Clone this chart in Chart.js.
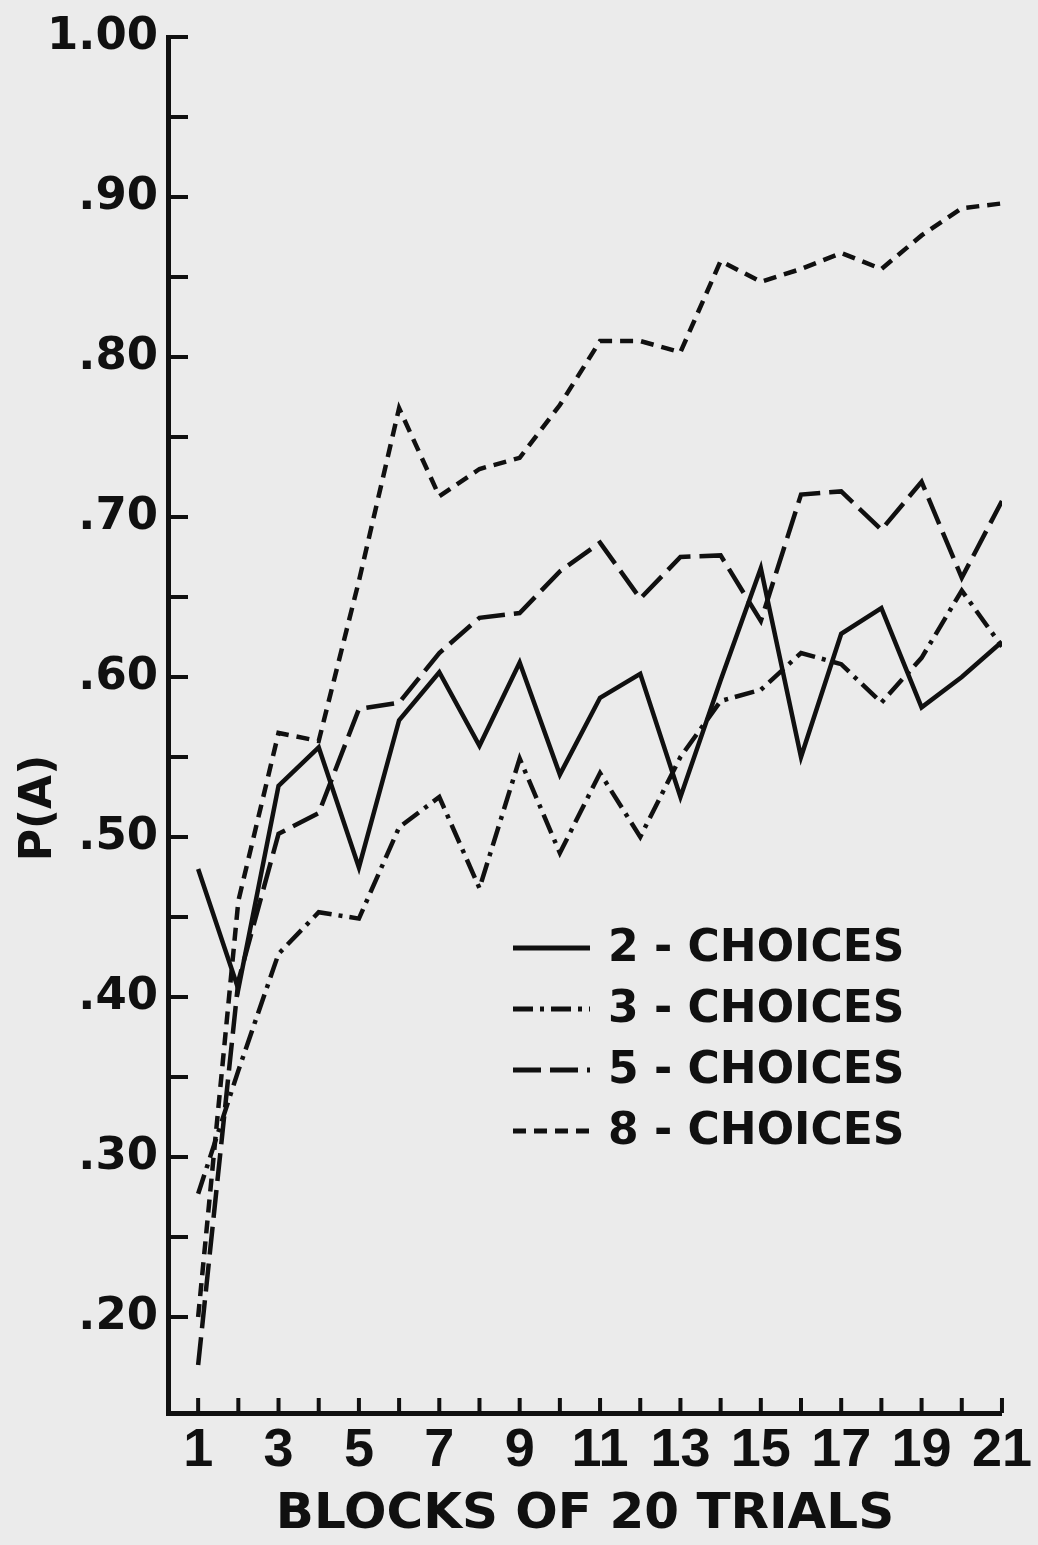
<!DOCTYPE html>
<html>
<head>
<meta charset="utf-8">
<title>P(A) by blocks of 20 trials</title>
<script src="https://cdn.jsdelivr.net/npm/chart.js@4.4.1/dist/chart.umd.min.js"></script>
<style>
  html, body { margin: 0; padding: 0; background: #ebebeb; }
  #wrap { width: 1038px; height: 1545px; position: relative; }
</style>
</head>
<body>
<div id="wrap"><canvas id="chart"></canvas></div>
<script>
// values
const blocks = [1, 2, 3, 4, 5, 6, 7, 8, 9, 10, 11, 12, 13, 14, 15, 16, 17, 18, 19, 20, 21];
const twoChoices = [0.48, 0.405, 0.532, 0.556, 0.481, 0.573, 0.603, 0.557, 0.609, 0.539, 0.587,
  0.602, 0.525, 0.598, 0.668, 0.55, 0.627, 0.643, 0.581, 0.60, 0.622];
const threeChoices = [0.277, 0.354, 0.427, 0.453, 0.449, 0.506, 0.525, 0.468, 0.549, 0.49, 0.54,
  0.50, 0.55, 0.585, 0.592, 0.615, 0.608, 0.584, 0.612, 0.654, 0.619];
const fiveChoices = [0.17, 0.41, 0.502, 0.515, 0.58, 0.584, 0.615, 0.637, 0.64, 0.666, 0.684,
  0.649, 0.675, 0.676, 0.635, 0.714, 0.716, 0.692, 0.722, 0.662, 0.71];
const eightChoices = [0.20, 0.46, 0.565, 0.56, 0.66, 0.768, 0.713, 0.73, 0.737, 0.77, 0.81,
  0.81, 0.803, 0.86, 0.847, 0.855, 0.865, 0.855, 0.876, 0.893, 0.896];

const seriesLabels = ["2 - CHOICES", "3 - CHOICES", "5 - CHOICES", "8 - CHOICES"];

const xTickValues = [1, 3, 5, 7, 9, 11, 13, 15, 17, 19, 21];
const xTickLabels = ["1", "3", "5", "7", "9", "11", "13", "15", "17", "19", "21"];
const yTickValues = [0.2, 0.3, 0.4, 0.5, 0.6, 0.7, 0.8, 0.9, 1.0];
const yTickLabels = [".20", ".30", ".40", ".50", ".60", ".70", ".80", ".90", "1.00"];
const yMarkValues = [0.2, 0.25, 0.3, 0.35, 0.4, 0.45, 0.5, 0.55, 0.6, 0.65, 0.7, 0.75, 0.8, 0.85, 0.9, 0.95, 1.0];

const ink = "#101010";
const letterFont = "'DejaVu Sans', sans-serif";
const digitFont = "'Liberation Sans', Arial, sans-serif";

function toPoints(values) {
  return blocks.map((b, i) => ({ x: b, y: values[i] }));
}

function makeSet(label, values, dash) {
  return {
    label: label,
    data: toPoints(values),
    borderColor: ink,
    borderWidth: 4.5,
    borderDash: dash,
    pointRadius: 0,
    tension: 0,
    fill: false
  };
}

// tick marks point inward, like the drawn axes
const inwardTicks = {
  id: "inwardTicks",
  afterDraw(chart) {
    const { ctx, chartArea, scales } = chart;
    ctx.save();
    ctx.strokeStyle = ink;
    ctx.lineWidth = 4;
    yMarkValues.forEach(v => {
      const py = scales.y.getPixelForValue(v);
      ctx.beginPath();
      ctx.moveTo(chartArea.left, py);
      ctx.lineTo(chartArea.left + 20, py);
      ctx.stroke();
    });
    blocks.forEach(b => {
      const px = scales.x.getPixelForValue(b);
      ctx.beginPath();
      ctx.moveTo(px, chartArea.bottom);
      ctx.lineTo(px, chartArea.bottom - 15);
      ctx.stroke();
    });
    ctx.restore();
  }
};

// legend sits inside the plot, lower right
const insideLegend = {
  id: "insideLegend",
  afterDraw(chart) {
    const ctx = chart.ctx;
    const left = 513, lineLen = 77, top = 948, step = 61;
    ctx.save();
    chart.data.datasets.forEach((ds, i) => {
      const cy = top + i * step;
      ctx.strokeStyle = ink;
      ctx.lineWidth = 5;
      ctx.setLineDash(ds.borderDash || []);
      ctx.beginPath();
      ctx.moveTo(left, cy);
      ctx.lineTo(left + lineLen, cy);
      ctx.stroke();
      ctx.setLineDash([]);
      ctx.fillStyle = ink;
      ctx.font = "bold 44px " + letterFont;
      ctx.textAlign = "left";
      ctx.textBaseline = "middle";
      ctx.fillText(ds.label, left + lineLen + 18, cy + 2);
    });
    ctx.restore();
  }
};

// rotated y title, placed lower than the axis middle as in the figure
const yTitle = {
  id: "yTitle",
  afterDraw(chart) {
    const ctx = chart.ctx;
    ctx.save();
    ctx.translate(40, 808);
    ctx.rotate(-Math.PI / 2);
    ctx.fillStyle = ink;
    ctx.font = "bold 44px " + letterFont;
    ctx.textAlign = "center";
    ctx.textBaseline = "middle";
    ctx.fillText("P(A)", 0, 0);
    ctx.restore();
  }
};

Chart.defaults.color = ink;

new Chart(document.getElementById("chart"), {
  type: "line",
  data: {
    datasets: [
      makeSet(seriesLabels[0], twoChoices, []),
      makeSet(seriesLabels[1], threeChoices, [20, 7, 4, 7]),
      makeSet(seriesLabels[2], fiveChoices, [28, 9]),
      makeSet(seriesLabels[3], eightChoices, [13, 8])
    ]
  },
  options: {
    responsive: true,
    maintainAspectRatio: false,
    animation: false,
    layout: { padding: { top: 34, right: 35, left: 0, bottom: 0 } },
    plugins: {
      legend: { display: false },
      tooltip: { enabled: false }
    },
    scales: {
      x: {
        type: "linear",
        min: 0.25,
        max: 21,
        afterBuildTicks: s => { s.ticks = xTickValues.map(v => ({ value: v })); },
        afterFit: s => { s.height = 132; },
        grid: { display: false, drawTicks: false },
        border: { display: true, color: ink, width: 5 },
        ticks: {
          autoSkip: false,
          maxRotation: 0,
          padding: 6,
          color: ink,
          font: { family: digitFont, size: 54, weight: "bold" },
          callback: (v, i) => xTickLabels[i]
        },
        title: {
          display: true,
          text: "BLOCKS OF 20 TRIALS",
          color: ink,
          font: { family: letterFont, size: 50, weight: "bold" },
          padding: { top: 0, bottom: 0 }
        }
      },
      y: {
        type: "linear",
        min: 0.14,
        max: 1.0,
        afterBuildTicks: s => { s.ticks = yTickValues.map(v => ({ value: v })); },
        afterFit: s => { s.width = 168; },
        grid: { display: false, drawTicks: false },
        border: { display: true, color: ink, width: 5 },
        ticks: {
          padding: 10,
          color: ink,
          font: { family: letterFont, size: 45, weight: "bold" },
          callback: (v, i) => yTickLabels[i]
        }
      }
    }
  },
  plugins: [inwardTicks, insideLegend, yTitle]
});
</script>
</body>
</html>
